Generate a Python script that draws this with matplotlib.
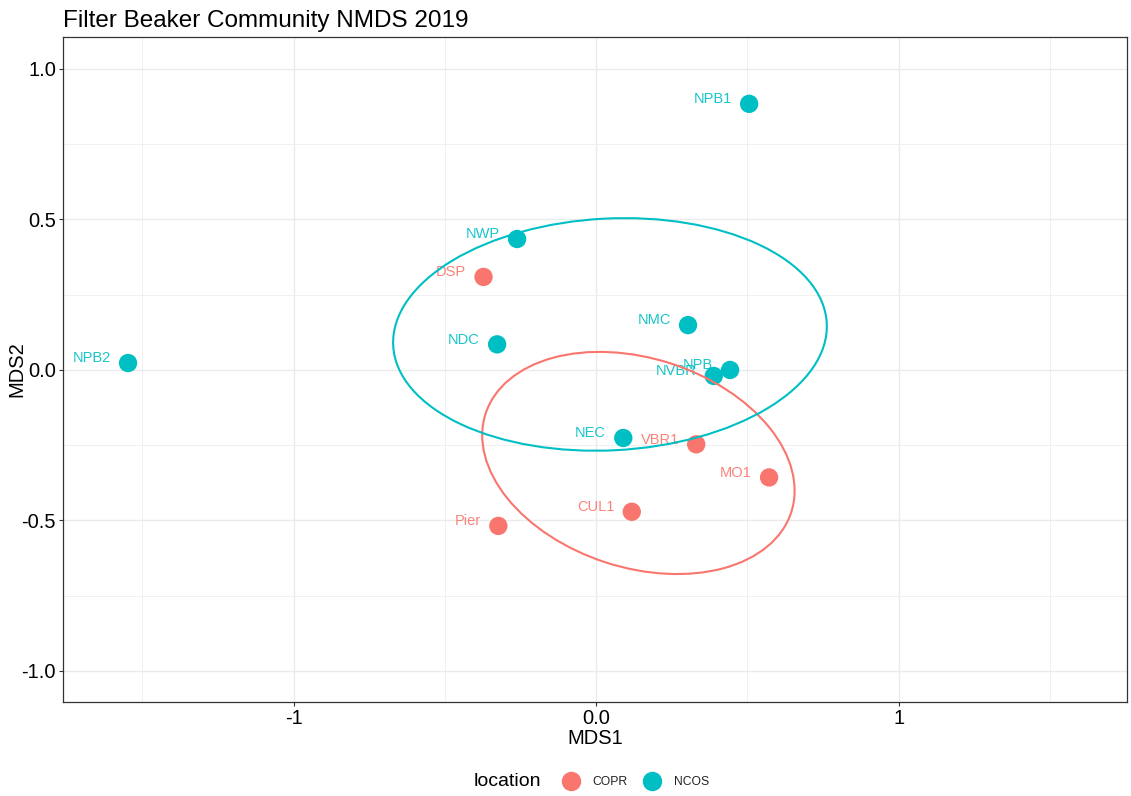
import numpy as np
import matplotlib
matplotlib.use("Agg")
import matplotlib.pyplot as plt
from matplotlib.patches import Ellipse
from matplotlib.lines import Line2D

plt.rcParams['font.family'] = ['Liberation Sans', 'DejaVu Sans']

# NMDS site scores
sites = ['NPB1', 'NWP', 'DSP', 'NMC', 'NDC', 'NPB2', 'NPB', 'NVBR',
         'NEC', 'VBR1', 'MO1', 'CUL1', 'Pier']
mds1 = [0.506, -0.261, -0.372, 0.304, -0.327, -1.547, 0.443, 0.389,
        0.090, 0.331, 0.572, 0.118, -0.323]
mds2 = [0.884, 0.435, 0.309, 0.149, 0.085, 0.023, 0.0, -0.020,
        -0.226, -0.247, -0.357, -0.471, -0.518]
location = ['NCOS', 'NCOS', 'COPR', 'NCOS', 'NCOS', 'NCOS', 'NCOS', 'NCOS',
            'NCOS', 'COPR', 'COPR', 'COPR', 'COPR']

groups = ['COPR', 'NCOS']
colors = {'COPR': '#F8766D', 'NCOS': '#00BFC4'}

# group ellipses: centre x, centre y, width, height, angle (deg)
ell_x = [0.140, 0.046]
ell_y = [-0.309, 0.118]
ell_w = [1.062, 1.435]
ell_h = [0.695, 0.770]
ell_ang = [-18, 3]

fig = plt.figure(figsize=(11.31, 7.96), dpi=100)
ax = fig.add_axes([63 / 1131, 1 - 702 / 796, 1064 / 1131, 665 / 796])

# grid
ax.set_xticks([-1, 0, 1])
ax.set_xticklabels(['-1', '0.0', '1'])
ax.set_xticks([-1.5, -0.5, 0.5, 1.5], minor=True)
ax.set_yticks([-1.0, -0.5, 0.0, 0.5, 1.0])
ax.set_yticklabels(['-1.0', '-0.5', '0.0', '0.5', '1.0'])
ax.set_yticks([-0.75, -0.25, 0.25, 0.75], minor=True)
ax.grid(which='major', color='#EBEBEB', lw=1.0)
ax.grid(which='minor', color='#F0F0F0', lw=0.7)
ax.set_axisbelow(True)
ax.tick_params(which='minor', length=0)
ax.tick_params(which='major', length=3, width=0.8, color='#333333',
               labelsize=14.5, labelcolor='black', pad=2)
for s in ax.spines.values():
    s.set_color('#333333')
    s.set_linewidth(0.9)

ax.set_xlim(-1.762, 1.755)
ax.set_ylim(-1.103, 1.106)

# points and labels
for name, x, y, loc in zip(sites, mds1, mds2, location):
    ax.scatter(x, y, s=175, color=colors[loc], edgecolors='none', zorder=3)
    ax.annotate(name, (x, y), xytext=(-12.5, 3.4), textcoords='offset points',
                ha='right', va='center', fontsize=10.5, color=colors[loc],
                alpha=0.9, zorder=4)

# ellipses
for g, cx, cy, w, h, a in zip(groups, ell_x, ell_y, ell_w, ell_h, ell_ang):
    ax.add_patch(Ellipse((cx, cy), w, h, angle=a, fill=False,
                         edgecolor=colors[g], lw=1.5, zorder=5))

ax.set_xlabel('MDS1', fontsize=14.5)
ax.set_ylabel('MDS2', fontsize=14.5)
ax.xaxis.set_label_coords(0.5, -0.040)
ax.yaxis.set_label_coords(-0.034, 0.5)
ax.set_title('Filter Beaker Community NMDS 2019', loc='left', fontsize=17.5,
             pad=7)

# legend at bottom
fig.text(507 / 1131, 1 - 782 / 796, 'location', ha='center', va='center',
         fontsize=14)
handles = [Line2D([], [], ls='none', marker='o', markersize=14,
                  markerfacecolor=colors[g], markeredgecolor='none')
           for g in groups]
fig.legend(handles, groups, ncol=2, loc='center left', frameon=False,
           bbox_to_anchor=(563.5 / 1131, 1 - 782 / 796), fontsize=8.7,
           handlelength=1.2, handletextpad=1.22, columnspacing=1.39,
           borderpad=0, borderaxespad=0, labelcolor='#222222')

fig.savefig('out.png', dpi=100)
